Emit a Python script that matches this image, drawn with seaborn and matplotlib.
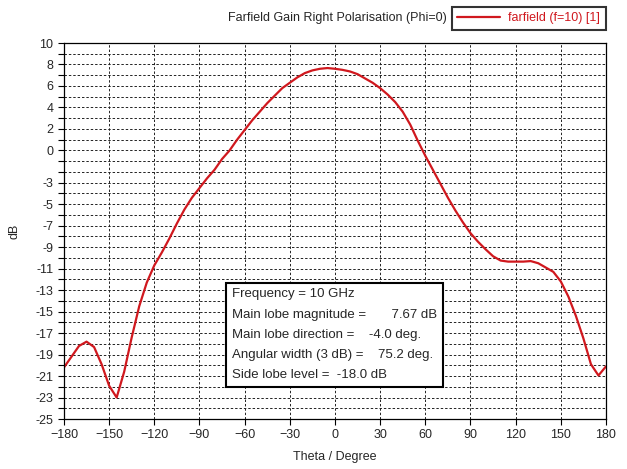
import matplotlib
matplotlib.use('Agg')
from matplotlib import pyplot as plt
import seaborn as sns
import pandas as pd

# farfield cut, phi = 0
theta = [-180, -175, -170, -165, -160, -155, -150, -145, -140, -135,
         -130, -125, -120, -115, -110, -105, -100, -95, -90, -85,
         -80, -75, -70, -65, -60, -55, -50, -45, -40, -35,
         -30, -25, -20, -15, -10, -5, 0, 5, 10, 15,
         20, 25, 30, 35, 40, 45, 50, 55, 60, 65,
         70, 75, 80, 85, 90, 95, 100, 105, 110, 115,
         120, 125, 130, 135, 140, 145, 150, 155, 160, 165,
         170, 175, 180]
gain = [-20.2, -19.2, -18.2, -17.8, -18.3, -19.9, -21.9, -23.0, -20.6, -17.4,
        -14.5, -12.3, -10.7, -9.5, -8.2, -6.8, -5.5, -4.4, -3.5, -2.6,
        -1.8, -0.8, 0.0, 1.0, 1.9, 2.8, 3.6, 4.4, 5.1, 5.8,
        6.3, 6.8, 7.2, 7.45, 7.6, 7.67, 7.6, 7.5, 7.35, 7.1,
        6.7, 6.3, 5.8, 5.2, 4.5, 3.6, 2.4, 0.9, -0.5, -1.8,
        -3.1, -4.4, -5.6, -6.7, -7.7, -8.5, -9.2, -9.85, -10.25, -10.35,
        -10.35, -10.35, -10.3, -10.5, -10.9, -11.3, -12.2, -13.6, -15.4, -17.5,
        -19.9, -20.95, -20.1]

xticks = list(range(-180, 181, 30))
ylabeled = [10, 8, 6, 4, 2, 0, -3, -5, -7, -9, -11, -13, -15, -17, -19, -21, -23, -25]

info = ['Frequency = 10 GHz',
        'Main lobe magnitude =       7.67 dB',
        'Main lobe direction =    -4.0 deg.',
        'Angular width (3 dB) =    75.2 deg.',
        'Side lobe level =  -18.0 dB']

df = pd.DataFrame({'Theta': theta, 'Gain': gain})

sns.set_style('ticks')
plt.rcParams['font.family'] = ['Liberation Sans', 'DejaVu Sans']
red = '#d0181e'
fs = 9

fig = plt.figure(figsize=(6.27, 4.69), dpi=100)
ax = fig.add_axes([0.102, 0.1066, 0.8645, 0.8017])

sns.lineplot(data=df, x='Theta', y='Gain', color=red, linewidth=1.6,
             label='farfield (f=10) [1]', ax=ax, sort=False)

ax.set_xlim(-180, 180)
ax.set_ylim(-25, 10)
ax.set_xticks(xticks)
yt = list(range(-25, 11))
ax.set_yticks(yt)
ax.set_yticklabels([str(v) if v in ylabeled else '' for v in yt])
ax.tick_params(labelsize=fs, length=4, width=0.8, direction='out', color='black')

ax.grid(True, color='#222222', linestyle=(0, (2.5, 2)), linewidth=0.7)
for s in ax.spines.values():
    s.set_visible(True)
    s.set_color('black')
    s.set_linewidth(0.9)

ax.set_xlabel('Theta / Degree', fontsize=fs)
ax.set_ylabel('dB', fontsize=fs)
ax.xaxis.set_label_coords(0.5, -0.085)
ax.yaxis.set_label_coords(-0.08, 0.5)

leg = ax.legend(loc='center right', bbox_to_anchor=(606 / 627, 1 - 18.5 / 469),
                bbox_transform=fig.transFigure, borderaxespad=0, fontsize=fs,
                frameon=True, fancybox=False, handlelength=3.4, borderpad=0.45,
                handletextpad=0.7)
leg.get_frame().set_edgecolor('black')
leg.get_frame().set_linewidth(1.5)
for t in leg.get_texts():
    t.set_color(red)

fig.text(447 / 627, 1 - 18.5 / 469, 'Farfield Gain Right Polarisation (Phi=0)',
         ha='right', va='center', fontsize=fs)

ax.text(-68.5, -12.85, '\n'.join(info), ha='left', va='top', fontsize=9.5,
        linespacing=1.9, zorder=5,
        bbox=dict(boxstyle='square,pad=0.45', facecolor='white',
                  edgecolor='black', linewidth=1.5))

fig.savefig('out.png', dpi=100)
